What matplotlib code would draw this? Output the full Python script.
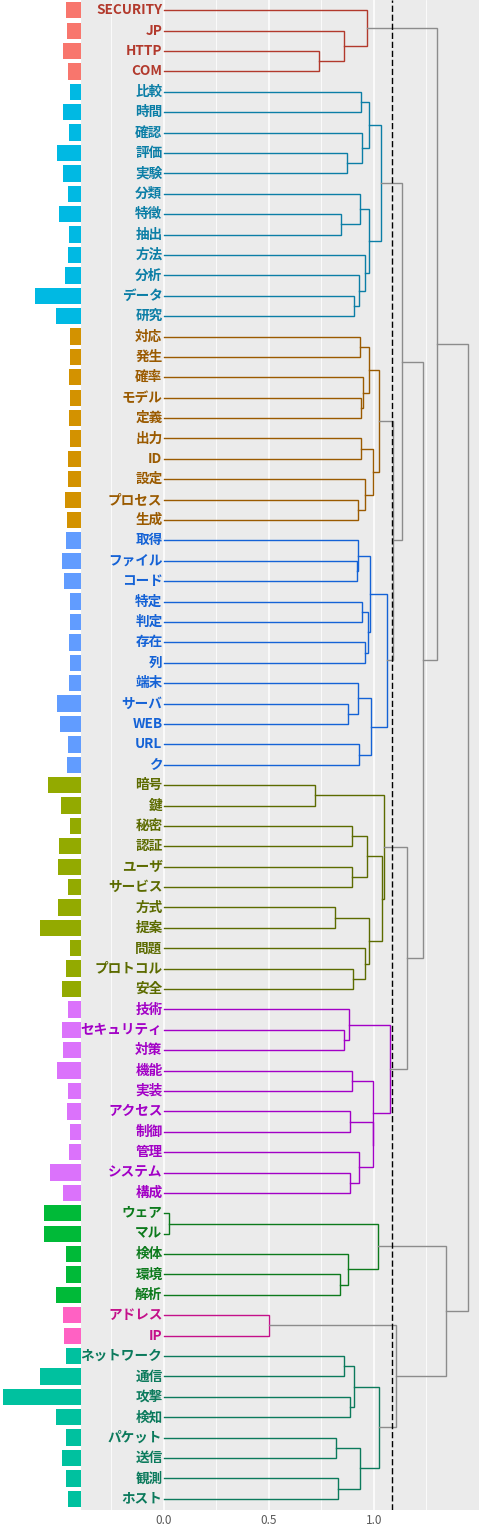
import matplotlib
matplotlib.use("Agg")
import matplotlib.pyplot as plt

plt.rcParams['font.family'] = ['Noto Sans CJK JP', 'DejaVu Sans']

# leaves, top to bottom
labels = ["SECURITY", "JP", "HTTP", "COM",
          "比較", "時間", "確認", "評価", "実験", "分類", "特徴", "抽出", "方法", "分析", "データ", "研究",
          "対応", "発生", "確率", "モデル", "定義", "出力", "ID", "設定", "プロセス", "生成",
          "取得", "ファイル", "コード", "特定", "判定", "存在", "列", "端末", "サーバ", "WEB", "URL", "ク",
          "暗号", "鍵", "秘密", "認証", "ユーザ", "サービス", "方式", "提案", "問題", "プロトコル", "安全",
          "技術", "セキュリティ", "対策", "機能", "実装", "アクセス", "制御", "管理", "システム", "構成",
          "ウェア", "マル", "検体", "環境", "解析",
          "アドレス", "IP",
          "ネットワーク", "通信", "攻撃", "検知", "パケット", "送信", "観測", "ホスト"]

freq = [15, 14, 18, 13,
        11, 18, 12, 24, 18, 13, 22, 12, 13, 16, 46, 25,
        11, 11, 12, 11, 12, 11, 13, 13, 16, 14,
        15, 19, 17, 11, 11, 12, 11, 12, 24, 21, 13, 14,
        33, 20, 11, 22, 23, 13, 23, 41, 11, 15, 19,
        13, 19, 18, 24, 13, 14, 11, 12, 31, 18,
        37, 37, 15, 15, 25,
        18, 17,
        15, 41, 78, 25, 15, 19, 15, 13]

cluster = [0]*4 + [1]*12 + [2]*10 + [3]*12 + [4]*11 + [5]*10 + [6]*5 + [7]*2 + [8]*8

bar_colors = ["#F8766D", "#00B9E3", "#D39200", "#619CFF", "#93AA00",
              "#DB72FB", "#00BA38", "#FF61C3", "#00C19F"]
dark_colors = ["#B2392C", "#0B7EA6", "#9A5A00", "#1462D6", "#5C6B00",
               "#A200C6", "#0C7A1C", "#C4108A", "#0B7A5C"]

# merges: (child, child, height); child = leaf label or index of earlier merge
merges = [
    ("HTTP", "COM", 0.738), ("JP", 0, 0.856), ("SECURITY", 1, 0.967),
    ("比較", "時間", 0.937), ("評価", "実験", 0.871), ("確認", 4, 0.946), (3, 5, 0.975),
    ("特徴", "抽出", 0.844), ("分類", 7, 0.935), ("データ", "研究", 0.906), ("分析", 9, 0.930),
    ("方法", 10, 0.956), (8, 11, 0.979), (6, 12, 1.035),
    ("対応", "発生", 0.935), ("モデル", "定義", 0.940), ("確率", 15, 0.951), (14, 16, 0.978),
    ("出力", "ID", 0.941), ("プロセス", "生成", 0.927), ("設定", 19, 0.956), (18, 20, 0.994),
    (17, 21, 1.027),
    ("ファイル", "コード", 0.919), ("取得", 23, 0.924), ("特定", "判定", 0.946), ("存在", "列", 0.956),
    (25, 26, 0.971), (24, 27, 0.984), ("サーバ", "WEB", 0.879), ("端末", 29, 0.927),
    ("URL", "ク", 0.932), (30, 31, 0.989), (28, 32, 1.065),
    ("暗号", "鍵", 0.722), ("秘密", "認証", 0.895), ("ユーザ", "サービス", 0.895), (35, 36, 0.967),
    ("方式", "提案", 0.813), ("プロトコル", "安全", 0.903), ("問題", 39, 0.956), (38, 40, 0.975),
    (37, 41, 1.041), (34, 42, 1.051),
    ("セキュリティ", "対策", 0.856), ("技術", 44, 0.883), ("機能", "実装", 0.898),
    ("アクセス", "制御", 0.887), ("システム", "構成", 0.887), ("管理", 48, 0.932), (47, 49, 0.994),
    (46, 50, 0.998), (45, 51, 1.075),
    ("ウェア", "マル", 0.024), ("環境", "解析", 0.837), ("検体", 54, 0.876), (53, 55, 1.019),
    ("アドレス", "IP", 0.503),
    ("ネットワーク", "通信", 0.860), ("攻撃", "検知", 0.887), (58, 59, 0.906),
    ("パケット", "送信", 0.821), ("観測", "ホスト", 0.829), (61, 62, 0.935), (60, 63, 1.027),
    (22, 33, 1.093), (13, 65, 1.136), (43, 52, 1.157), (66, 67, 1.236), (2, 68, 1.303),
    (57, 64, 1.105), (56, 70, 1.344), (69, 71, 1.450),
]
cut_height = 1.086

W, H = 480, 1525
fig = plt.figure(figsize=(W/100, H/100), dpi=100)
pan_l, pan_r, pan_t, pan_b = 81, 479, 0, 1510
rect_y = (H - pan_b) / H
rect_h = (pan_b - pan_t) / H
ax = fig.add_axes([pan_l/W, rect_y, (pan_r-pan_l)/W, rect_h])
axb = fig.add_axes([0, rect_y, pan_l/W, rect_h])

n = len(labels)
ylim = (73.55, -0.505)
gray = "#8C8C8C"

# node positions
pos = {}      # key -> (y, h, clusters)
def child(c):
    if isinstance(c, str):
        i = labels.index(c)
        return (i, 0.0, {cluster[i]})
    return pos[c]

for k, (a, b, h) in enumerate(merges):
    ya, ha, ca = child(a)
    yb, hb, cb = child(b)
    cl = ca | cb
    col = dark_colors[next(iter(cl))] if len(cl) == 1 else gray
    ax.plot([ha, h, h, hb], [ya, ya, yb, yb], color=col, lw=1.0,
            solid_joinstyle='miter', zorder=3)
    pos[k] = ((ya + yb) / 2, h, cl)

ax.axvline(cut_height, color="black", lw=1.0, ls=(0, (4.5, 2)), zorder=4)

for i, lab in enumerate(labels):
    ax.text(-0.006, i, lab, ha='right', va='center', fontsize=9.8,
            fontweight='bold', color=dark_colors[cluster[i]], zorder=5)

ax.set_facecolor("#EBEBEB")
ax.set_xlim(-0.394, 1.501)
ax.set_ylim(*ylim)
ax.set_xticks([0.0, 0.5, 1.0])
ax.set_xticklabels(["0.0", "0.5", "1.0"])
ax.set_xticks([-0.25, 0.25, 0.75, 1.25], minor=True)
ax.grid(which='major', axis='x', color='white', lw=1.1, zorder=0)
ax.grid(which='minor', axis='x', color='white', lw=0.55, zorder=0)
ax.set_axisbelow(True)
ax.set_yticks([])
ax.tick_params(axis='x', which='both', length=0, pad=3, labelsize=8.5, labelcolor="#5A5A5A")
for s in ax.spines.values():
    s.set_visible(False)

axb.barh(range(n), freq, height=0.8, color=[bar_colors[c] for c in cluster])
axb.set_xlim(80.5, 0)
axb.set_ylim(*ylim)
axb.axis('off')

fig.savefig("out.png", dpi=100)
